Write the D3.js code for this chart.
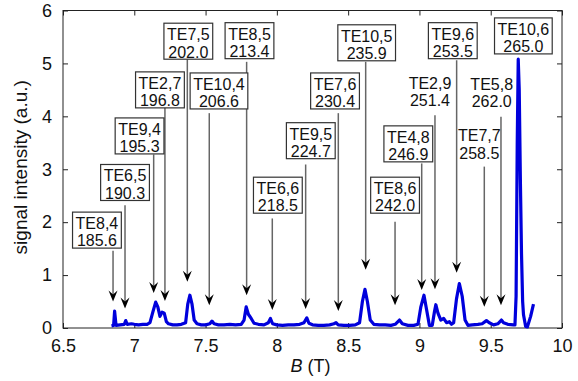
<!DOCTYPE html>
<html>
<head>
<meta charset="utf-8">
<script src="https://cdn.jsdelivr.net/npm/d3@7"></script>
<style>
body { margin: 0; background: #fff; }
text { font-family: "Liberation Sans", Arial, sans-serif; }
</style>
</head>
<body>
<div id="graph"></div>
<script>
// spectrum: magnetic field (T) and signal intensity (a.u.)
const fieldB = [6.84, 6.855, 6.862, 6.872, 6.90, 6.93, 6.94, 6.95, 6.98, 7.00, 7.03, 7.06, 7.09, 7.11, 7.13, 7.15, 7.165, 7.18, 7.195, 7.21, 7.225, 7.24, 7.27, 7.30, 7.33, 7.36, 7.375, 7.39, 7.405, 7.42, 7.44, 7.47, 7.50, 7.53, 7.545, 7.56, 7.59, 7.63, 7.67, 7.71, 7.75, 7.77, 7.785, 7.80, 7.82, 7.84, 7.87, 7.91, 7.94, 7.955, 7.97, 8.00, 8.04, 8.08, 8.12, 8.16, 8.19, 8.21, 8.225, 8.25, 8.29, 8.33, 8.37, 8.40, 8.415, 8.43, 8.47, 8.51, 8.55, 8.58, 8.60, 8.618, 8.635, 8.655, 8.68, 8.72, 8.76, 8.80, 8.83, 8.86, 8.88, 8.92, 8.96, 8.99, 9.01, 9.032, 9.05, 9.07, 9.09, 9.105, 9.115, 9.13, 9.15, 9.17, 9.19, 9.21, 9.225, 9.24, 9.26, 9.28, 9.30, 9.32, 9.34, 9.37, 9.41, 9.44, 9.47, 9.49, 9.52, 9.55, 9.575, 9.59, 9.62, 9.66, 9.670, 9.678, 9.686, 9.693, 9.700, 9.708, 9.716, 9.724, 9.73, 9.745, 9.757, 9.78, 9.80];
const signal = [0.04, 0.05, 0.32, 0.05, 0.06, 0.07, 0.14, 0.07, 0.08, 0.07, 0.06, 0.07, 0.07, 0.10, 0.30, 0.49, 0.40, 0.22, 0.30, 0.28, 0.12, 0.08, 0.06, 0.06, 0.07, 0.10, 0.45, 0.62, 0.45, 0.15, 0.08, 0.06, 0.06, 0.08, 0.13, 0.08, 0.06, 0.06, 0.07, 0.06, 0.07, 0.15, 0.40, 0.26, 0.18, 0.09, 0.07, 0.06, 0.10, 0.18, 0.08, 0.06, 0.05, 0.06, 0.06, 0.07, 0.10, 0.19, 0.09, 0.06, 0.05, 0.05, 0.06, 0.08, 0.10, 0.06, 0.05, 0.05, 0.06, 0.10, 0.50, 0.73, 0.50, 0.15, 0.07, 0.06, 0.06, 0.05, 0.07, 0.15, 0.08, 0.05, 0.05, 0.07, 0.40, 0.62, 0.35, 0.05, 0.05, 0.30, 0.44, 0.28, 0.15, 0.18, 0.10, 0.12, 0.07, 0.10, 0.55, 0.84, 0.60, 0.15, 0.05, 0.06, 0.07, 0.08, 0.14, 0.10, 0.06, 0.08, 0.15, 0.10, 0.07, 0.06, 0.06, 0.6, 3.5, 5.08, 4.5, 2.8, 1.4, 0.5, 0.25, 0.03, 0.02, 0.22, 0.45];

// mode labels and predicted frequencies (GHz)
const modeNames = ['TE8,4', 'TE6,5', 'TE9,4', 'TE2,7', 'TE7,5', 'TE10,4', 'TE8,5', 'TE6,6', 'TE9,5', 'TE7,6', 'TE10,5', 'TE8,6', 'TE4,8', 'TE2,9', 'TE9,6', 'TE7,7', 'TE5,8', 'TE10,6'];
const modeFreqs = ['185.6', '190.3', '195.3', '196.8', '202.0', '206.6', '213.4', '218.5', '224.7', '230.4', '235.9', '242.0', '246.9', '251.4', '253.5', '258.5', '262.0', '265.0'];
const modeBoxed = [true, true, true, true, true, true, true, true, true, true, true, true, true, false, true, false, false, true];
// label anchor (data units): centre field and top of the box
const labelB = [6.738, 6.935, 7.037, 7.18, 7.379, 7.594, 7.808, 8.007, 8.238, 8.408, 8.63, 8.829, 8.922, 9.074, 9.234, 9.42, 9.507, 9.729];
const labelTop = [2.19, 3.09, 3.97, 4.84, 5.76, 4.82, 5.77, 2.85, 3.88, 4.82, 5.73, 2.85, 3.82, 4.84, 5.77, 3.85, 4.82, 5.86];
// arrows: field, start level, tip level (null = no arrow)
const arrowB = [6.851, 6.935, 7.136, 7.215, 7.372, 7.526, 7.788, 7.968, 8.202, 8.431, 8.623, 8.829, 9.016, 9.109, 9.261, 9.455, 9.572, null];
const arrowFrom = [1.46, 2.32, 3.28, 4.18, 5.08, 4.06, 5.03, 2.07, 3.09, 4.06, 5.03, 2.01, 3.11, 4.02, 5.06, 3.05, 3.99, null];
const arrowTo = [0.50, 0.37, 0.66, 0.51, 0.875, 0.43, 0.62, 0.34, 0.36, 0.32, 1.10, 0.43, 0.72, 0.73, 1.045, 0.40, 0.43, null];

const xTicks = [6.5, 7, 7.5, 8, 8.5, 9, 9.5, 10];
const yTicks = [0, 1, 2, 3, 4, 5, 6];

const width = 578;
const height = 381;
const margin = {top: 10.5, right: 16, bottom: 53, left: 63};
const plotW = width - margin.left - margin.right;
const plotH = height - margin.top - margin.bottom;

const svg = d3.select('#graph')
    .append('svg')
    .attr('width', width)
    .attr('height', height);

const g = svg.append('g')
    .attr('transform', `translate(${margin.left},${margin.top})`);

const x = d3.scaleLinear().domain([6.5, 10]).range([0, plotW]);
const y = d3.scaleLinear().domain([0, 6]).range([plotH, 0]);

// axes, ticks pointing inward on all sides
function styleAxis(sel) {
    sel.select('.domain').remove();
    sel.selectAll('line').attr('stroke', '#222');
    sel.selectAll('text').attr('fill', '#111').style('font-size', '18px');
}

g.append('g')
    .attr('transform', `translate(0,${plotH})`)
    .call(d3.axisBottom(x).tickValues(xTicks).tickFormat(d => String(d)).tickSizeInner(-5).tickSizeOuter(0).tickPadding(11))
    .call(styleAxis);

g.append('g')
    .call(d3.axisTop(x).tickValues(xTicks).tickFormat('').tickSizeInner(-5).tickSizeOuter(0))
    .call(styleAxis);

g.append('g')
    .call(d3.axisLeft(y).tickValues(yTicks).tickFormat(d => String(d)).tickSizeInner(-5).tickSizeOuter(0).tickPadding(11))
    .call(styleAxis);

g.append('g')
    .attr('transform', `translate(${plotW},0)`)
    .call(d3.axisRight(y).tickValues(yTicks).tickFormat('').tickSizeInner(-5).tickSizeOuter(0))
    .call(styleAxis);

g.append('rect')
    .attr('width', plotW)
    .attr('height', plotH)
    .attr('fill', 'none')
    .attr('stroke', '#222')
    .attr('stroke-width', 1);

// axis titles
const xTitle = svg.append('text')
    .attr('x', margin.left + plotW / 2 - 2)
    .attr('y', 372)
    .attr('text-anchor', 'middle')
    .style('font-size', '18px')
    .attr('fill', '#111');
xTitle.append('tspan').style('font-style', 'italic').text('B');
xTitle.append('tspan').text(' (T)');

svg.append('text')
    .attr('transform', `translate(27,${margin.top + plotH / 2 - 2}) rotate(-90)`)
    .attr('text-anchor', 'middle')
    .style('font-size', '19px')
    .attr('fill', '#111')
    .text('signal intensity (a.u.)');

// spectrum
const spectrum = fieldB.map((b, i) => [b, signal[i]]);
const line = d3.line()
    .x(d => x(d[0]))
    .y(d => y(d[1]));

g.append('path')
    .datum(spectrum)
    .attr('d', line)
    .attr('fill', 'none')
    .attr('stroke', '#0000dc')
    .attr('stroke-width', 3.2)
    .attr('stroke-linejoin', 'round');

// arrows
modeNames.forEach((name, i) => {
    if (arrowB[i] === null) return;
    const ax = x(arrowB[i]);
    const tipY = y(arrowTo[i]);
    g.append('line')
        .attr('x1', ax)
        .attr('x2', ax)
        .attr('y1', y(arrowFrom[i]))
        .attr('y2', tipY - 6)
        .attr('stroke', '#666')
        .attr('stroke-width', 1.5);
    g.append('path')
        .attr('d', `M${ax},${tipY} L${ax - 4.5},${tipY - 11} L${ax},${tipY - 7} L${ax + 4.5},${tipY - 11} Z`)
        .attr('fill', '#000');
});

// labels
modeNames.forEach((name, i) => {
    const cx = x(labelB[i]);
    const top = y(labelTop[i]);
    const lab = g.append('g');
    const t = lab.append('text')
        .attr('text-anchor', 'middle')
        .style('font-size', '16px')
        .attr('fill', '#111');
    t.append('tspan').attr('x', cx).attr('y', top + 17).text(name);
    t.append('tspan').attr('x', cx).attr('y', top + 34.3).text(modeFreqs[i]);
    if (modeBoxed[i]) {
        const w = t.node().getBBox().width + 6;
        lab.insert('rect', 'text')
            .attr('x', cx - w / 2)
            .attr('y', top)
            .attr('width', w)
            .attr('height', 36)
            .attr('fill', '#fff')
            .attr('stroke', '#333')
            .attr('stroke-width', 1.2);
    }
});
</script>
</body>
</html>
